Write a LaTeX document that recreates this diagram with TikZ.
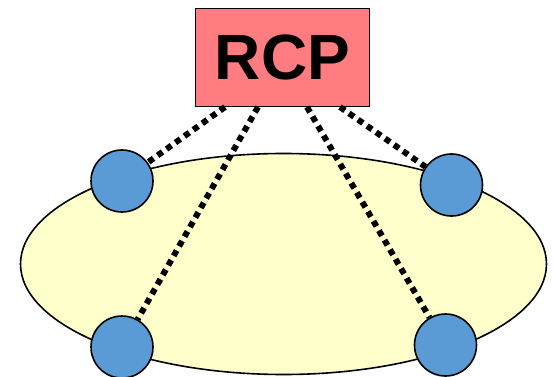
\documentclass[tikz,border=0pt]{standalone}
\usepackage{fontspec}
\setmainfont{Liberation Sans}
\usetikzlibrary{shapes.geometric}
\definecolor{boxred}{HTML}{FF7C80}
\definecolor{ellyellow}{HTML}{FFFFCC}
\definecolor{dotblue}{HTML}{5B9BD5}
\begin{document}
\begin{tikzpicture}[x=1pt,y=-1pt,
  outl/.style={draw=black,line width=1.6pt},
  dotnode/.style={outl,circle,fill=dotblue,minimum size=62pt,inner sep=0pt},
  link/.style={line width=6pt,dash pattern=on 6pt off 5pt}]
\useasboundingbox (0,0) rectangle (554,377);
\node[outl,ellipse,fill=ellyellow,minimum width=526pt,minimum height=221pt,inner sep=0pt] (ell) at (283.5,264) {};
\node[outl,fill=boxred,minimum width=174pt,minimum height=98pt,inner sep=0pt,font=\bfseries\fontsize{64}{64}\selectfont] (rcp) at (282.5,57.5) {RCP};
\node[dotnode] (tl) at (122,181) {};
\node[dotnode] (tr) at (451.5,185) {};
\node[dotnode] (bl) at (122,347) {};
\node[dotnode] (br) at (445.5,345) {};
\coordinate (s1) at (225,107);
\coordinate (s2) at (258,107);
\coordinate (s3) at (307,107);
\coordinate (s4) at (340,107);
\draw[link] (s1) -- (tl);
\draw[link] (s2) -- (bl);
\draw[link] (s3) -- (br);
\draw[link] (s4) -- (tr);
\end{tikzpicture}
\end{document}
